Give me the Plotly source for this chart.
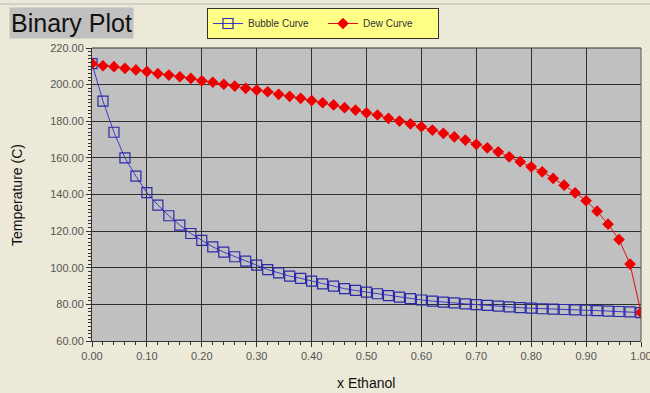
import plotly.graph_objects as go

x_vals = [round(i * 0.02, 2) for i in range(51)]

bubble_T = [211.5, 191.0, 174.0, 160.0, 150.0, 141.0, 134.2, 128.4, 123.3, 118.7,
            115.0, 111.4, 108.5, 106.0, 103.6, 101.4, 99.0, 97.2, 95.4, 94.2,
            92.7, 91.2, 90.0, 88.6, 87.6, 86.7, 85.8, 84.8, 84.0, 83.1,
            82.4, 81.8, 81.2, 80.8, 80.3, 79.9, 79.4, 79.0, 78.6, 78.2,
            77.9, 77.6, 77.4, 77.2, 77.0, 76.8, 76.6, 76.3, 76.1, 75.9, 75.5]

dew_T = [211.5, 210.3, 209.8, 208.9, 208.0, 207.1, 206.0, 205.2, 204.3, 203.4,
         202.1, 201.3, 200.2, 199.2, 198.0, 197.0, 196.1, 194.7, 193.6, 192.5,
         191.3, 190.1, 188.9, 187.4, 186.1, 184.6, 183.4, 181.6, 180.1, 178.6,
         177.0, 175.2, 173.4, 171.5, 169.7, 167.4, 165.5, 163.3, 160.6, 157.9,
         155.1, 152.4, 148.8, 145.1, 140.9, 136.6, 130.9, 123.8, 115.4, 102.0, 75.5]

FONT = "Arial, 'Liberation Sans', sans-serif"

fig = go.Figure()
fig.add_trace(go.Scatter(
    x=x_vals, y=bubble_T, name="Bubble Curve", mode="lines+markers",
    line=dict(color="#3c3cc8", width=1),
    marker=dict(symbol="square-open", size=10, color="#2a2aa8", line=dict(width=1.2)),
))
fig.add_trace(go.Scatter(
    x=x_vals, y=dew_T, name="Dew Curve", mode="lines+markers",
    line=dict(color="#e01010", width=1),
    marker=dict(symbol="diamond", size=9, color="#ee0000"),
))

W, H = 650, 393
ml, mr, mt, mb = 92, 9, 48, 52
pw, ph = W - ml - mr, H - mt - mb

def px(xp):
    return (xp - ml) / pw

def py(yp):
    return (H - mb - yp) / ph

fig.update_layout(
    width=W, height=H,
    margin=dict(l=ml, r=mr, t=mt, b=mb, autoexpand=False),
    paper_bgcolor="#ECE9D8",
    plot_bgcolor="#C0C0C0",
    font=dict(family=FONT, color="#333333"),
    showlegend=True,
    legend=dict(
        orientation="h", x=px(207), y=py(8), xanchor="left", yanchor="top",
        bgcolor="#FFFF88", bordercolor="#333333", borderwidth=1,
        font=dict(size=10, family=FONT, color="#333333"),
        tracegroupgap=0, entrywidth=70,
    ),
    xaxis=dict(
        range=[0, 1], tickmode="linear", tick0=0, dtick=0.1, tickformat=".2f",
        showgrid=True, gridcolor="#303030", gridwidth=1,
        showline=True, linecolor="#333333", linewidth=1, mirror=False,
        ticks="outside", ticklen=5, tickcolor="#333333",
        tickfont=dict(size=11, color="#555555", family=FONT),
        ticklabeloverflow="allow", automargin=False,
        minor=dict(ticks="outside", ticklen=3, dtick=0.02, tickcolor="#333333", showgrid=False),
        zeroline=False, fixedrange=True,
    ),
    yaxis=dict(
        range=[60, 220], tickmode="linear", tick0=60, dtick=20, tickformat=".2f",
        showgrid=True, gridcolor="#303030", gridwidth=1,
        showline=True, linecolor="#333333", linewidth=1,
        ticks="outside", ticklen=5, tickcolor="#333333",
        tickfont=dict(size=11, color="#555555", family=FONT),
        automargin=False,
        minor=dict(ticks="outside", ticklen=3, dtick=2, tickcolor="#333333", showgrid=False),
        zeroline=False, fixedrange=True,
    ),
    annotations=[
        dict(text="Binary Plot", xref="paper", yref="paper", x=px(9), y=py(23),
             xanchor="left", yanchor="middle", showarrow=False,
             bgcolor="#C0C0C0", font=dict(size=25, color="#111111", family=FONT),
             borderpad=1),
        dict(text="Temperature (C)", xref="paper", yref="paper", x=px(17), y=py(195),
             xanchor="center", yanchor="middle", textangle=-90, showarrow=False,
             font=dict(size=14, color="#111111", family=FONT)),
        dict(text="x Ethanol", xref="paper", yref="paper", x=px(366), y=py(383),
             xanchor="center", yanchor="middle", showarrow=False,
             font=dict(size=14, color="#111111", family=FONT)),
    ],
    shapes=[
        dict(type="line", xref="paper", yref="paper", x0=px(0), x1=px(W), y0=py(4), y1=py(4),
             line=dict(color="#b8b8b8", width=1)),
        dict(type="line", xref="paper", yref="paper", x0=1, x1=1, y0=0, y1=1,
             line=dict(color="#555555", width=1)),
        dict(type="line", xref="paper", yref="paper", x0=0, x1=1, y0=1, y1=1,
             line=dict(color="#333333", width=1)),
    ],
)

fig.write_html("out.html")
